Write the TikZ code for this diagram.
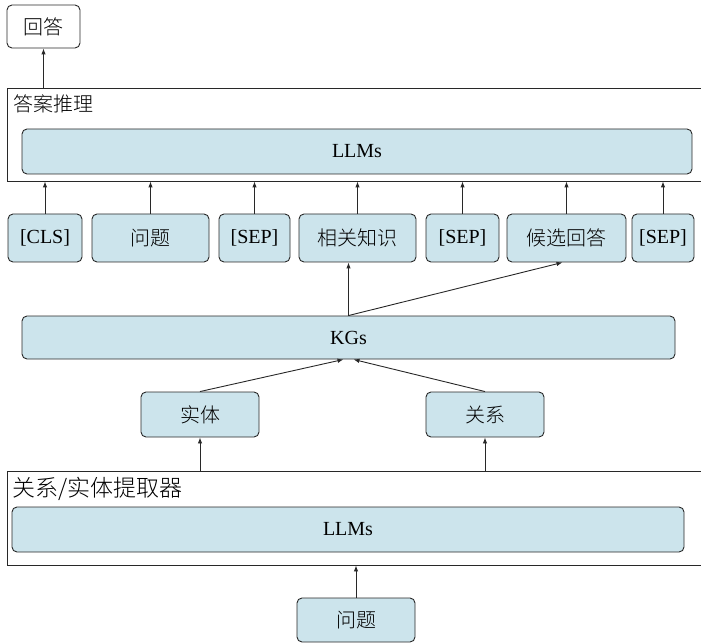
\documentclass[tikz,border=0pt]{standalone}
\usepackage{fontspec}
\setmainfont{Liberation Serif}
\newfontfamily\cjk{Noto Sans CJK SC}[UprightFont={* Light}]
\usetikzlibrary{arrows.meta}
\definecolor{boxblue}{RGB}{204,228,236}
\definecolor{linegray}{RGB}{40,40,40}
\tikzset{
  bluebox/.style={draw=linegray, line width=0.9pt, fill=boxblue, rounded corners=5pt, inner sep=0pt, font=\fontsize{20}{22}\selectfont},
  whitebox/.style={draw=linegray, line width=0.9pt, fill=white, rounded corners=5pt, inner sep=0pt, font=\fontsize{20}{22}\selectfont},
  outerbox/.style={draw=linegray, line width=0.9pt, inner sep=0pt},
  lbl/.style={inner sep=0pt, anchor=west, font=\fontsize{20}{22}\selectfont\cjk},
  arr/.style={draw=linegray, line width=0.9pt, -{Latex[length=6pt,width=4.5pt]}}
}
\begin{document}
\begin{tikzpicture}[x=1pt,y=-1pt]
\useasboundingbox (0,0) rectangle (701,644);
\clip (0,0) rectangle (701,644);
% top answer
\node[whitebox, minimum width=73pt, minimum height=43pt] (ans) at (43.5,26.5) {\cjk 回答};
% outer reasoning box
\node[outerbox, minimum width=700pt, minimum height=93pt] (out1) at (357,134.5) {};
\node[lbl] (l1) at (13,104) {答案推理};
\node[bluebox, minimum width=670pt, minimum height=45pt] (llm1) at (357,151.5) {LLMs};
% tokens
\node[bluebox, minimum width=74pt, minimum height=48pt] (cls) at (45,238) {[CLS]};
\node[bluebox, minimum width=117pt, minimum height=48pt] (q1) at (150.5,238) {\cjk 问题};
\node[bluebox, minimum width=71pt, minimum height=48pt] (sep1) at (254.5,238) {[SEP]};
\node[bluebox, minimum width=117pt, minimum height=48pt] (know) at (357.5,238) {\cjk 相关知识};
\node[bluebox, minimum width=73pt, minimum height=48pt] (sep2) at (462.5,238) {[SEP]};
\node[bluebox, minimum width=119pt, minimum height=48pt] (cand) at (566.5,238) {\cjk 候选回答};
\node[bluebox, minimum width=62pt, minimum height=48pt] (sep3) at (663,238) {[SEP]};
% KGs
\node[bluebox, minimum width=653pt, minimum height=43pt] (kg) at (348.5,337.5) {KGs};
% entity / relation
\node[bluebox, minimum width=118pt, minimum height=45pt] (ent) at (200,414.5) {\cjk 实体};
\node[bluebox, minimum width=118pt, minimum height=45pt] (rel) at (485,414.5) {\cjk 关系};
% outer extractor box
\node[outerbox, minimum width=700pt, minimum height=94pt] (out2) at (357,518) {};
\node[lbl, font=\fontsize{23}{25}\selectfont\cjk] (l2) at (12,489) {关系/实体提取器};
\node[bluebox, minimum width=672pt, minimum height=45pt] (llm2) at (348,529.5) {LLMs};
% bottom question
\node[bluebox, minimum width=118pt, minimum height=44pt] (q2) at (356,620) {\cjk 问题};
% arrows
\draw[arr] (ans.south |- out1.north) -- (ans.south);
\foreach \t in {cls,q1,sep1,know,sep2,cand,sep3}{
  \draw[arr] (\t.north) -- (\t.north |- out1.south);
}
\coordinate (kgtop) at (kg.north);
\draw[arr] (kgtop) -- (kgtop |- know.south);
\draw[arr] (kgtop) -- ([xshift=-4pt]cand.south);
\draw[arr] (ent.north) -- ([xshift=-5pt]kg.south);
\draw[arr] (rel.north) -- ([xshift=5pt]kg.south);
\draw[arr] (ent.south |- out2.north) -- (ent.south);
\draw[arr] (rel.south |- out2.north) -- (rel.south);
\draw[arr] (q2.north) -- (q2.north |- out2.south);
\end{tikzpicture}
\end{document}
